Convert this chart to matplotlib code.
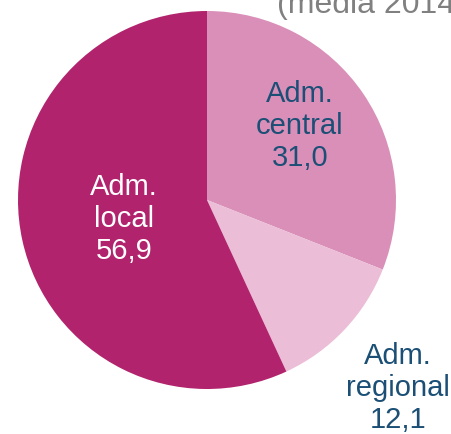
import matplotlib.pyplot as plt

plt.rcParams['font.family'] = ['Liberation Sans', 'DejaVu Sans']

etiquetas = ["Adm.\ncentral\n31,0", "Adm.\nregional\n12,1", "Adm.\nlocal\n56,9"]
valores = [31.0, 12.1, 56.9]
colores = ["#da8fb9", "#ebbdd6", "#b1246d"]

fig = plt.figure(figsize=(4.52, 4.34), dpi=100)
ax = fig.add_axes([0, 0, 1, 1])

ax.pie(valores, colors=colores, startangle=90, counterclock=False,
       center=(207, 234), radius=189, frame=True,
       wedgeprops={"linewidth": 0})
ax.set_xlim(0, 452)
ax.set_ylim(0, 434)
ax.set_aspect("equal")
ax.axis("off")

azul = "#1b4f75"
ax.text(300, 308, etiquetas[0], ha="center", va="center", fontsize=21,
        color=azul, linespacing=1.2)
ax.text(398, 46, etiquetas[1], ha="center", va="center", fontsize=21,
        color=azul, linespacing=1.2)
ax.text(124, 215, etiquetas[2], ha="center", va="center", fontsize=21,
        color="white", linespacing=1.2)

ax.text(277, 421, "(media 2014", ha="left", va="baseline", fontsize=23,
        color="#808080")

fig.savefig("out.png", dpi=100)
